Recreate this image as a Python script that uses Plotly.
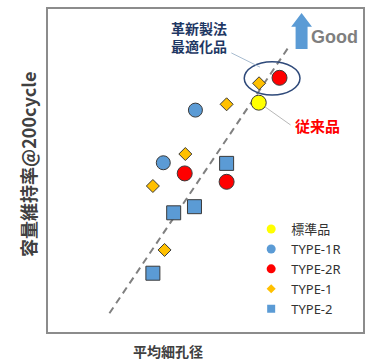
import plotly.graph_objects as go

# ---- data (axis units 0-100, no ticks shown) ----
std_x = [66.9]
std_y = [71.0]
t1r_x = [46.8, 36.6]
t1r_y = [68.7, 52.4]
t2r_x = [73.5, 43.4, 56.7]
t2r_y = [78.7, 49.1, 46.5]
t1_x = [67.0, 56.7, 43.6, 33.3, 37.0]
t1_y = [77.0, 70.5, 55.1, 45.2, 25.4]
t2_x = [56.7, 46.5, 39.9, 33.3]
t2_y = [52.2, 38.8, 36.9, 18.2]
trend_x = [19.5, 76.1]
trend_y = [5.8, 87.8]

series_names = ["標準品", "TYPE-1R", "TYPE-2R", "TYPE-1", "TYPE-2"]
x_title = "平均細孔径"
y_title = "容量維持率@200cycle"

JP = "Noto Sans CJK JP"
EDGE = dict(color="#3a3a3a", width=1)

fig = go.Figure()

fig.add_trace(go.Scatter(x=trend_x, y=trend_y, mode="lines",
                         line=dict(color="#808080", width=2, dash="7px,5px"),
                         showlegend=False, hoverinfo="skip"))

specs = [
    (std_x, std_y, "circle", "#FFFF00", 15),
    (t1r_x, t1r_y, "circle", "#5B9BD5", 14),
    (t2r_x, t2r_y, "circle", "#FF0000", 15),
    (t1_x, t1_y, "diamond", "#FFC000", 10),
    (t2_x, t2_y, "square", "#5B9BD5", 14),
]
for (xs, ys, sym, col, sz), name in zip(specs, series_names):
    fig.add_trace(go.Scatter(x=xs, y=ys, mode="markers", name=name,
                             marker=dict(symbol=sym, color=col, size=sz, line=EDGE),
                             showlegend=False))
# legend entries (markers without outline)
leg_size = {"circle": 9, "diamond": 7, "square": 8}
for (xs, ys, sym, col, sz), name in zip(specs, series_names):
    fig.add_trace(go.Scatter(x=[None], y=[None], mode="markers", name=name,
                             marker=dict(symbol=sym, color=col, size=leg_size[sym],
                                         line=dict(width=0))))

shapes = [
    # ellipse around optimized product
    dict(type="circle", xref="x", yref="y", x0=62.3, x1=80.0, y0=73.4, y1=83.7,
         line=dict(color="#2F4A7A", width=1.5)),
    # connectors
    dict(type="line", xref="x", yref="y", x0=58.2, y0=86.4, x1=67.3, y1=82.0,
         line=dict(color="#A8BCD0", width=1)),
    dict(type="line", xref="x", yref="y", x0=68.9, y0=69.7, x1=77.0, y1=64.1,
         line=dict(color="#B8B8B8", width=1)),
    # Good arrow
    dict(type="path", xref="x", yref="y",
         path="M 80.5 98.8 L 83.8 94.5 L 82.4 94.5 L 82.4 87.6 L 78.6 87.6 L 78.6 94.5 L 77.2 94.5 Z",
         fillcolor="#5B9BD5", line=dict(width=0)),
]

annotations = [
    dict(x=47.8, y=91.3, xref="x", yref="y", text="<b>革新製法<br>最適化品</b>", showarrow=False,
         font=dict(family=JP, size=14, color="#1F3864"), align="center"),
    dict(x=85.5, y=63.8, xref="x", yref="y", text="<b>従来品</b>", showarrow=False,
         font=dict(family=JP, size=15, color="#FF0000")),
    dict(x=90.9, y=91.3, xref="x", yref="y", text="<b>Good</b>", showarrow=False,
         font=dict(family="Liberation Sans", size=18, color="#7F7F7F")),
    dict(x=-0.064, y=0.52, xref="paper", yref="paper", text="<b>" + y_title + "</b>", showarrow=False,
         textangle=-90, xanchor="center", yanchor="middle",
         font=dict(family=JP, size=18, color="#404040")),
    dict(x=0.38, y=-0.06, xref="paper", yref="paper", text="<b>" + x_title + "</b>", showarrow=False,
         xanchor="center", yanchor="middle",
         font=dict(family=JP, size=14, color="#404040")),
]

axis_common = dict(range=[0, 100], showgrid=False, zeroline=False, showticklabels=False,
                   ticks="", showline=True, linecolor="#8C8C8C", linewidth=2, mirror=True,
                   fixedrange=True)

fig.update_layout(
    width=368, height=363,
    margin=dict(l=48, r=3, t=9, b=31),
    plot_bgcolor="white", paper_bgcolor="white",
    xaxis=axis_common, yaxis=axis_common,
    shapes=shapes, annotations=annotations,
    legend=dict(x=0.645, y=0.365, xanchor="left", yanchor="top",
                font=dict(family="Noto Sans, " + JP, size=13, color="#333333"),
                bgcolor="rgba(0,0,0,0)", itemsizing="trace", tracegroupgap=0,
                itemwidth=30),
    showlegend=True,
)

fig.write_html("out.html")
